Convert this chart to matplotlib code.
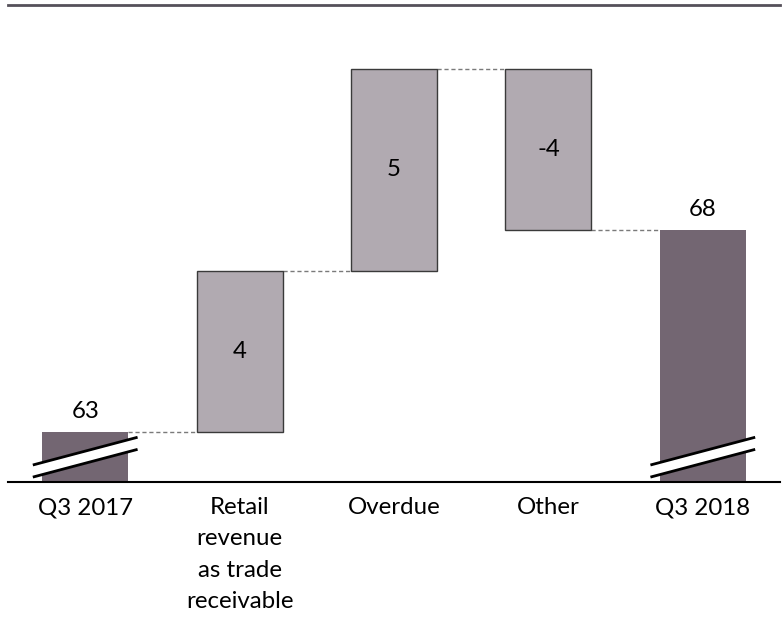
import matplotlib
matplotlib.use("Agg")
import matplotlib.pyplot as plt
import numpy as np

# Waterfall: start value, changes, end value
categories = ["Q3 2017", "Retail\nrevenue\nas trade\nreceivable", "Overdue", "Other", "Q3 2018"]
start_value = 63
changes = [4, 5, -4]
end_value = 68

plt.rcParams['font.family'] = ['Lato', 'DejaVu Sans']
fs = 17.3

dark = '#736672'
light = '#b1aab1'

fig = plt.figure(figsize=(7.82, 6.17), dpi=100)
ax = fig.add_axes([8 / 782, 135 / 617, 772 / 782, 477 / 617])

x = np.arange(len(categories))
width = 0.557

# running totals for the floating bars
levels = np.concatenate([[start_value], start_value + np.cumsum(changes)])
bottoms = levels[:-1]
ymin, ymax = 61.76, 73.58

# totals start at the bottom of the (broken) axis
ax.bar(x[0], start_value - ymin, bottom=ymin, width=width, color=dark, zorder=2)
ax.bar(x[-1], end_value - ymin, bottom=ymin, width=width, color=dark, zorder=2)
ax.bar(x[1:-1], changes, bottom=bottoms, width=width, color=light,
       edgecolor='#3a3a3a', linewidth=1, zorder=2)

# value labels
ax.text(x[0], start_value + 0.24, str(start_value), ha='center', va='bottom', fontsize=fs)
ax.text(x[-1], end_value + 0.24, str(end_value), ha='center', va='bottom', fontsize=fs)
for xi, b, c in zip(x[1:-1], bottoms, changes):
    ax.text(xi, b + c / 2, str(c), ha='center', va='center', fontsize=fs)

# dashed connectors between bars
all_levels = list(levels) + [end_value]
for i in range(len(categories) - 1):
    ax.plot([x[i] + width / 2, x[i + 1] - width / 2], [all_levels[i]] * 2,
            color='#7a7a7a', linestyle='--', linewidth=1, dashes=(3, 2), zorder=1)

# axis break marks on the total bars
pad = 0.052
for xi in (x[0], x[-1]):
    x0, x1 = xi - width / 2 - pad, xi + width / 2 + pad
    lo = [ymin + 0.13, ymin + 0.80]
    hi = [ymin + 0.43, ymin + 1.10]
    ax.fill([x0, x1, x1, x0], [lo[0], lo[1], hi[1], hi[0]], color='white', zorder=3,
            clip_on=False)
    ax.plot([x0, x1], lo, color='black', linewidth=2, zorder=4, clip_on=False)
    ax.plot([x0, x1], hi, color='black', linewidth=2, zorder=4, clip_on=False)

ax.set_xlim(-0.5, len(categories) - 0.5)
ax.set_ylim(ymin, ymax)
ax.set_xticks(x)
ax.set_xticklabels(categories, fontsize=fs, linespacing=1.6)
ax.tick_params(axis='x', length=0, pad=11)
ax.set_yticks([])

for side in ('left', 'right'):
    ax.spines[side].set_visible(False)
ax.spines['bottom'].set_color('black')
ax.spines['bottom'].set_linewidth(1.5)
ax.spines['top'].set_color('#55505a')
ax.spines['top'].set_linewidth(2)

fig.savefig('out.png', dpi=100)
